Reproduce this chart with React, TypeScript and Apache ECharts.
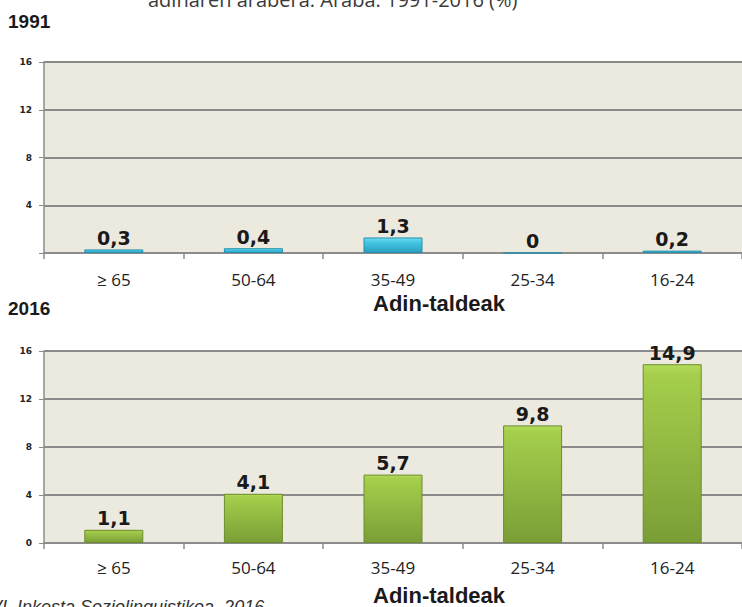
import React, { useEffect, useRef } from "react";
import * as echarts from "echarts";

const categories = ["≥ 65", "50-64", "35-49", "25-34", "16-24"];
const values1991 = [0.3, 0.4, 1.3, 0, 0.2];
const values2016 = [1.1, 4.1, 5.7, 9.8, 14.9];
const yTicks = [0, 4, 8, 12, 16];
const panelTitles = ["1991", "2016"];
const axisName = "Adin-taldeak";
const mainTitle = "adinaren arabera. Araba. 1991-2016 (%)";
const sourceText = "VI. Inkesta Soziolinguistikoa. 2016";

const fmt = (v: number) => String(v).replace(".", ",");

export default function App() {
  const ref = useRef<HTMLDivElement>(null);
  useEffect(() => {
    if (!ref.current) return;
    const chart = echarts.init(ref.current, null, { renderer: "svg" });
    const grids = [
      { left: 44, top: 62, width: 702, height: 191 },
      { left: 44, top: 351, width: 702, height: 192 },
    ];
    const xAxis = grids.map((_, i) => ({
      type: "category",
      gridIndex: i,
      data: categories,
      axisLine: { lineStyle: { color: "#8c8c8c", width: 2 } },
      axisTick: { show: true, length: 6, lineStyle: { color: "#8c8c8c", width: 1.5 } },
      axisLabel: {
        color: "#222",
        fontFamily: "Open Sans",
        fontSize: 17,
        lineHeight: 15,
        margin: i === 0 ? 19 : 17,
      },
    }));
    const yAxis = grids.map((_, i) => ({
      type: "value",
      gridIndex: i,
      min: yTicks[0],
      max: yTicks[yTicks.length - 1],
      interval: 4,
      axisLine: { show: true, lineStyle: { color: "#8c8c8c", width: 1.5 } },
      axisTick: { show: true, length: 5, lineStyle: { color: "#8c8c8c" } },
      splitLine: { lineStyle: { color: "#8a8a8a", width: 2 } },
      axisLabel: {
        color: "#222",
        fontFamily: "DejaVu Sans",
        fontWeight: "bold",
        fontSize: 9,
        margin: 12,
        formatter: (v: number) => (i === 0 && v === 0 ? "" : String(v)),
      },
    }));
    const cyan = new echarts.graphic.LinearGradient(0, 0, 0, 1, [
      { offset: 0, color: "#6fdcf0" },
      { offset: 0.3, color: "#44c6e2" },
      { offset: 1, color: "#2a9fbf" },
    ]);
    const green = new echarts.graphic.LinearGradient(0, 0, 0, 1, [
      { offset: 0, color: "#b4dc5c" },
      { offset: 0.05, color: "#a5cf4c" },
      { offset: 1, color: "#7a9e36" },
    ]);
    const labelStyle = {
      show: true,
      position: "top",
      distance: 2,
      color: "#1a1a1a",
      fontFamily: "DejaVu Sans",
      fontWeight: "bold",
      fontSize: 19,
      formatter: (p: any) => fmt(p.value),
    };
    chart.setOption({
      animation: false,
      grid: grids.map((g) => ({ ...g, show: true, backgroundColor: "#ECE9DF", borderWidth: 0 })),
      xAxis,
      yAxis,
      series: [
        {
          type: "bar",
          xAxisIndex: 0,
          yAxisIndex: 0,
          data: values1991,
          barWidth: 59,
          itemStyle: { color: cyan, borderColor: "#2590ad", borderWidth: 1 },
          label: labelStyle,
        },
        {
          type: "bar",
          xAxisIndex: 1,
          yAxisIndex: 1,
          data: values2016,
          barWidth: 59,
          itemStyle: { color: green, borderColor: "#6c8d2e", borderWidth: 1 },
          label: labelStyle,
        },
      ],
      graphic: [
        {
          type: "text",
          left: 148,
          top: -11,
          style: { text: mainTitle, fontSize: 20, fontFamily: "Open Sans", fill: "#3a3a3a" },
        },
        {
          type: "text",
          left: 8,
          top: 12,
          style: { text: panelTitles[0], fontSize: 19, fontWeight: "bold", fontFamily: "Liberation Sans", fill: "#1a1a1a" },
        },
        {
          type: "text",
          left: 8,
          top: 299,
          style: { text: panelTitles[1], fontSize: 19, fontWeight: "bold", fontFamily: "Liberation Sans", fill: "#1a1a1a" },
        },
        {
          type: "text",
          left: 373,
          top: 292,
          style: { text: axisName, fontSize: 22, lineHeight: 18, fontWeight: "bold", fontFamily: "Liberation Sans", fill: "#1a1a1a" },
        },
        {
          type: "text",
          left: 373,
          top: 584,
          style: { text: axisName, fontSize: 22, lineHeight: 18, fontWeight: "bold", fontFamily: "Liberation Sans", fill: "#1a1a1a" },
        },
        {
          type: "text",
          left: -10,
          top: 598,
          style: { text: sourceText, fontSize: 18, fontStyle: "italic", fontFamily: "Liberation Sans", fill: "#333" },
        },
      ],
    });
    return () => chart.dispose();
  }, []);
  return (
    <div
      ref={ref}
      style={{ position: "fixed", left: 0, top: 0, width: 742, height: 607, background: "#fff" }}
    />
  );
}
